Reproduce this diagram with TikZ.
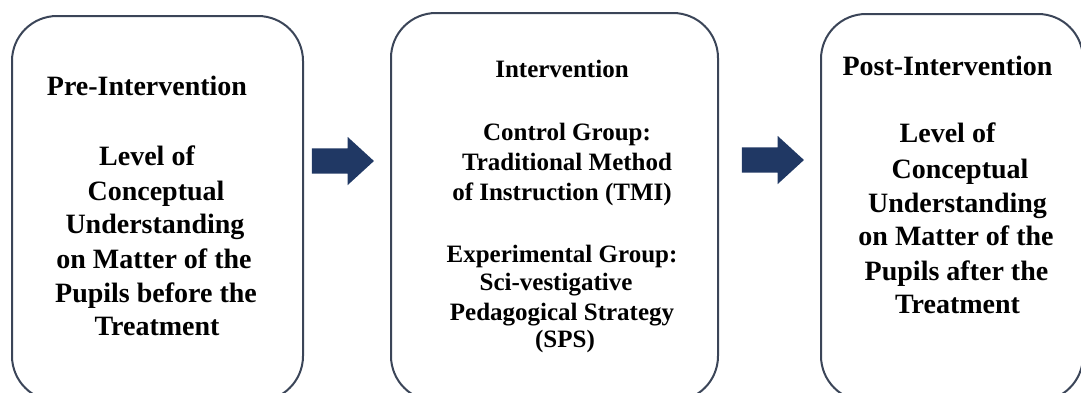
\documentclass[tikz,border=0pt]{standalone}
\usepackage{fontspec}
\setmainfont{Liberation Serif}
\usetikzlibrary{shapes.arrows}
\definecolor{boxline}{HTML}{3B4558}
\definecolor{arrowfill}{HTML}{203864}
\begin{document}
\begin{tikzpicture}[x=1pt,y=-1pt,
  flowbox/.style={draw=boxline, line width=2pt, rounded corners=45pt, inner sep=0pt, anchor=north west},
  big/.style={font=\fontsize{28}{34}\selectfont\bfseries, inner sep=0pt, anchor=base},
  mid/.style={font=\fontsize{25}{30}\selectfont\bfseries, inner sep=0pt, anchor=base},
  blockarrow/.style={single arrow, fill=arrowfill, draw=none, minimum height=62pt,
    inner xsep=0pt, inner ysep=12.5pt,
    single arrow head extend=11.5pt, single arrow tip angle=85}]
\useasboundingbox (0,0) rectangle (1081,392);
\begin{scope}
\clip (0,0) rectangle (1081,392);
\node[flowbox, minimum width=291pt, minimum height=385pt] (b1) at (11,15) {};
\node[flowbox, minimum width=327pt, minimum height=388pt] (b2) at (390,12) {};
\node[flowbox, minimum width=262pt, minimum height=387pt] (b3) at (820,13) {};
\end{scope}
\node[blockarrow] (a1) at (336,161) {};
\node[blockarrow] (a2) at (766,160) {};
% box 1
\node[big] (p0) at (147,95) {Pre-Intervention};
\node[big] (p1) at (147,165) {Level of};
\node[big] (p2) at (156,200) {Conceptual};
\node[big] (p3) at (155,233) {Understanding};
\node[big] (p4) at (154,268) {on Matter of the};
\node[big] (p5) at (156,302) {Pupils before the};
\node[big] (p6) at (157,335) {Treatment};
% box 2
\node[mid] (i0) at (562,77) {Intervention};
\node[mid] (i1) at (567,140) {Control Group:};
\node[mid] (i2) at (567,170) {Traditional Method};
\node[mid] (i3) at (562,200) {of Instruction (TMI)};
\node[mid] (i4) at (562,262) {Experimental Group:};
\node[mid] (i5) at (556,290) {Sci-vestigative};
\node[mid] (i6) at (562,320) {Pedagogical Strategy};
\node[mid] (i7) at (565,347) {(SPS)};
% box 3
\node[big] (q0) at (947.5,75) {Post-Intervention};
\node[big] (q1) at (947.5,142) {Level of};
\node[big] (q2) at (960,178) {Conceptual};
\node[big] (q3) at (957.5,212) {Understanding};
\node[big] (q4) at (956,245) {on Matter of the};
\node[big] (q5) at (956.5,280) {Pupils after the};
\node[big] (q6) at (957.5,313) {Treatment};
\end{tikzpicture}
\end{document}
